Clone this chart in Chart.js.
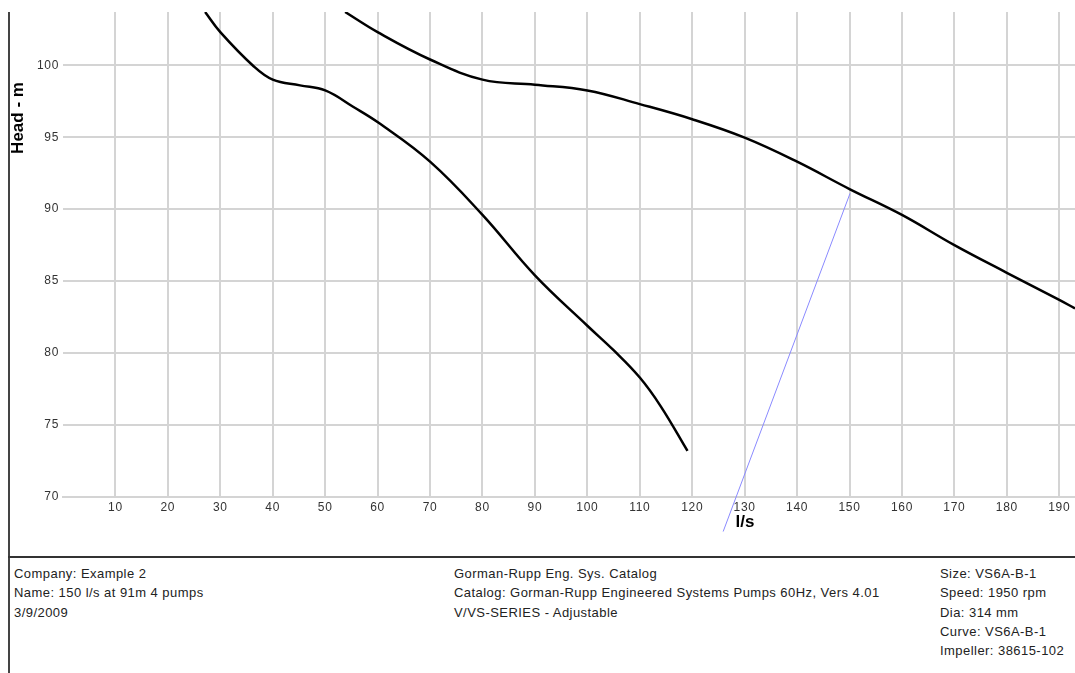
<!DOCTYPE html>
<html>
<head>
<meta charset="utf-8">
<script src="https://cdn.jsdelivr.net/npm/chart.js@4/dist/chart.umd.min.js"></script>
<style>
  html, body { margin: 0; padding: 0; background: #fff; }
  #page { position: relative; width: 1075px; height: 673px; overflow: hidden; font-family: "Liberation Sans", Arial, sans-serif; }
  #myChart { position: absolute; left: 0; top: 0; }
  .vline { position: absolute; left: 8px; top: 12px; width: 2px; height: 661px; background: #444; }
  .hline { position: absolute; left: 8px; top: 556px; width: 1067px; height: 2px; background: #333; }
  .info { position: absolute; top: 564px; font-size: 13px; line-height: 19.3px; letter-spacing: 0.45px; color: #222; white-space: nowrap; }
</style>
</head>
<body>
<div id="page">
  <canvas id="myChart" width="1075" height="557"></canvas>
  <div class="vline"></div>
  <div class="hline"></div>
  <div class="info" style="left:14px">
    <div>Company: Example 2</div>
    <div>Name: 150 l/s at 91m 4 pumps</div>
    <div>3/9/2009</div>
  </div>
  <div class="info" style="left:454px">
    <div>Gorman-Rupp Eng. Sys. Catalog</div>
    <div>Catalog: Gorman-Rupp Engineered Systems Pumps 60Hz, Vers 4.01</div>
    <div>V/VS-SERIES - Adjustable</div>
  </div>
  <div class="info" style="left:940px">
    <div>Size: VS6A-B-1</div>
    <div>Speed: 1950 rpm</div>
    <div>Dia: 314 mm</div>
    <div>Curve: VS6A-B-1</div>
    <div>Impeller: 38615-102</div>
  </div>
</div>
<script>
// curve values (flow l/s, head m)
const smallFlow = [27.1, 30, 36.3, 40, 45.2, 50, 55.4, 60.2, 70, 80, 90, 100, 105, 110, 114, 119.1];
const smallHead = [103.7, 102.3, 99.95, 99.0, 98.6, 98.25, 97.1, 96.0, 93.3, 89.6, 85.4, 81.9, 80.2, 78.3, 76.3, 73.2];

const bigFlow = [53.8, 60, 70, 80, 90, 100, 110, 120, 130, 140, 150, 160, 170, 180, 190, 193];
const bigHead = [103.7, 102.3, 100.4, 99.0, 98.65, 98.25, 97.3, 96.25, 94.97, 93.3, 91.4, 89.6, 87.5, 85.58, 83.7, 83.1];

const sysFlow = [125.9, 150.1];
const sysHead = [67.6, 91.1];

const xMin = 0, xMax = 193, xStep = 10;
const yMin = 70, yMax = 103.7, yStep = 5;

const gridColor = '#d4d4d4';
const tickFont = { family: 'Liberation Sans, Arial, sans-serif', size: 12 };

function toPoints(xs, ys) {
  return xs.map((x, i) => ({ x: x, y: ys[i] }));
}

// the original font is a bit wider, so space the tick labels out
const wideText = {
  id: 'wideText',
  beforeDraw(chart) {
    chart.ctx.letterSpacing = '0.7px';
  }
};

// axis titles sit at odd spots in the original, so draw them by hand
const axisTitles = {
  id: 'axisTitles',
  afterDraw(chart) {
    const c = chart.ctx;
    c.save();
    c.letterSpacing = '0px';
    c.fillStyle = '#000';
    c.font = 'bold 17px "Liberation Sans", Arial, sans-serif';
    c.textAlign = 'center';
    c.textBaseline = 'middle';
    c.fillText('l/s', 745, 522);
    c.translate(18, 118);
    c.rotate(-Math.PI / 2);
    c.fillText('Head - m', 0, 0);
    c.restore();
  }
};

const ctx = document.getElementById('myChart').getContext('2d');
const pumpChart = new Chart(ctx, {
  type: 'scatter',
  data: {
    datasets: [
      {
        label: 'small',
        data: toPoints(smallFlow, smallHead),
        showLine: true,
        borderColor: '#000',
        borderWidth: 2.5,
        pointRadius: 0,
        tension: 0.4
      },
      {
        label: 'big',
        data: toPoints(bigFlow, bigHead),
        showLine: true,
        borderColor: '#000',
        borderWidth: 2.5,
        pointRadius: 0,
        tension: 0.4
      },
      {
        label: 'system',
        data: toPoints(sysFlow, sysHead),
        showLine: true,
        borderColor: '#8a8aff',
        borderWidth: 1,
        pointRadius: 0,
        clip: false
      }
    ]
  },
  options: {
    responsive: false,
    devicePixelRatio: 1,
    animation: false,
    layout: { padding: { top: 12, left: 0, right: 0, bottom: 0 } },
    plugins: {
      legend: { display: false },
      tooltip: { enabled: false }
    },
    scales: {
      x: {
        type: 'linear',
        min: xMin,
        max: xMax,
        afterFit: (scale) => { scale.height = 60; },
        ticks: {
          stepSize: xStep,
          includeBounds: false,
          autoSkip: false,
          maxRotation: 0,
          padding: 3,
          color: '#333',
          font: tickFont,
          callback: (v) => (v === 0 ? '' : v)
        },
        grid: {
          drawTicks: false,
          lineWidth: 2,
          color: (c) => (c.tick && c.tick.value === 0 ? 'rgba(0,0,0,0)' : gridColor)
        },
        border: { color: gridColor, width: 2 }
      },
      y: {
        min: yMin,
        max: yMax,
        afterFit: (scale) => { scale.width = 63; },
        ticks: {
          stepSize: yStep,
          includeBounds: false,
          padding: 4,
          color: '#333',
          font: tickFont
        },
        grid: {
          drawTicks: false,
          lineWidth: 2,
          color: gridColor
        },
        border: { display: false }
      }
    }
  },
  plugins: [wideText, axisTitles]
});
</script>
</body>
</html>
